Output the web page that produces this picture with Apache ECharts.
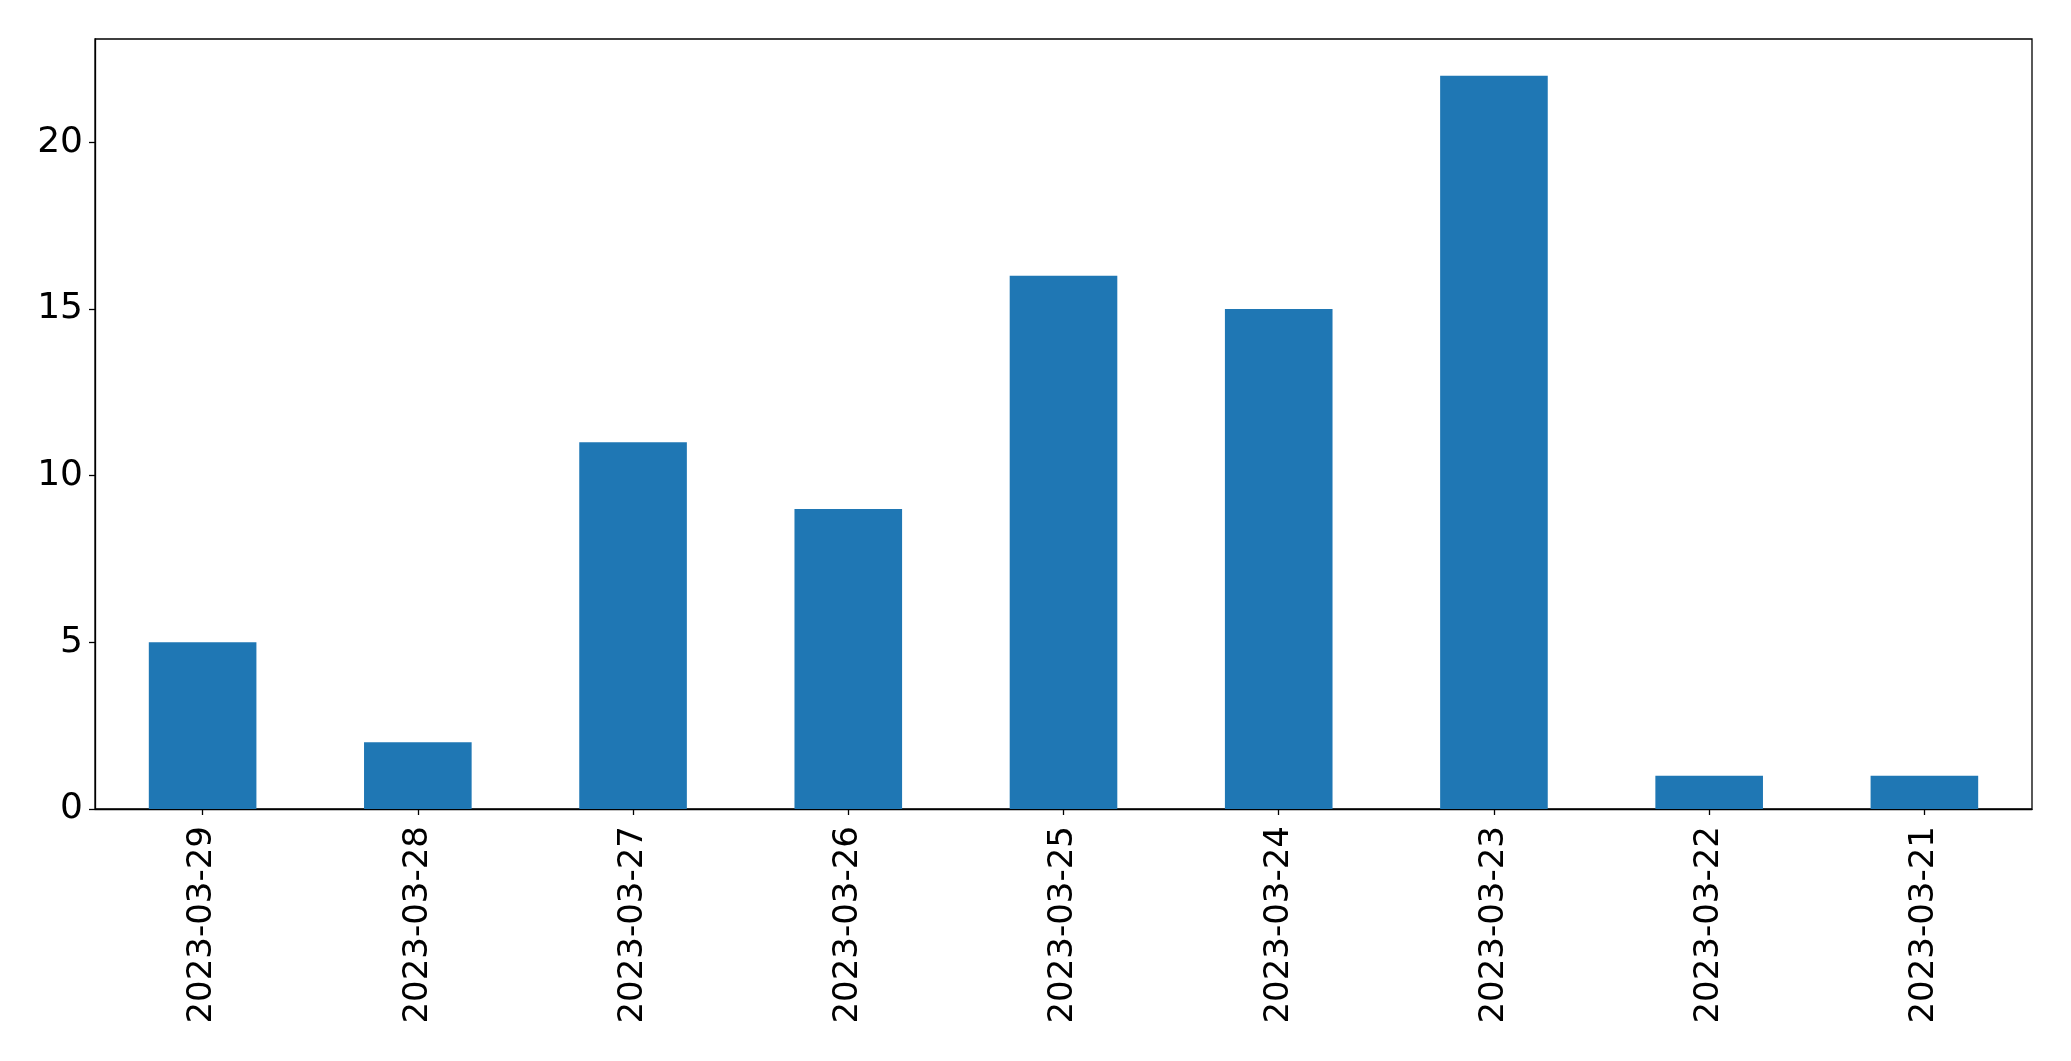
<!DOCTYPE html>
<html><head><meta charset="utf-8">
<script src="https://cdn.jsdelivr.net/npm/echarts@6/dist/echarts.min.js"></script>
<style>html,body{margin:0;padding:0;background:#fff}#c{width:2071px;height:1061px}</style>
</head><body><div id="c"></div>
<script>
const categories = ['2023-03-29','2023-03-28','2023-03-27','2023-03-26','2023-03-25','2023-03-24','2023-03-23','2023-03-22','2023-03-21'];
const counts = [5, 2, 11, 9, 16, 15, 22, 1, 1];
const yTicks = [0, 5, 10, 15, 20];

const chart = echarts.init(document.getElementById('c'), null, {renderer:'canvas'});
const font = 'DejaVu Sans';
chart.setOption({
  animation: false,
  grid: {left: 95, right: 39, top: 39, bottom: 252, show: true, borderColor: '#000', borderWidth: 1.3, backgroundColor: 'transparent'},
  xAxis: {
    type: 'category', data: categories,
    axisLine: {show: true, lineStyle: {color: '#000', width: 1.3}},
    axisTick: {show: true, alignWithLabel: true, length: 6, lineStyle: {color: '#000', width: 1.3}},
    axisLabel: {rotate: 90, margin: 17, color: '#000', fontSize: 34, fontFamily: font},
    splitLine: {show: false}
  },
  yAxis: {
    type: 'value', min: 0, max: 23.1, interval: 5,
    axisLine: {show: true, lineStyle: {color: '#000', width: 1.3}},
    axisTick: {show: true, length: 6, customValues: yTicks, lineStyle: {color: '#000', width: 1.3}},
    axisLabel: {margin: 12, color: '#000', fontSize: 36, fontFamily: font, customValues: yTicks},
    splitLine: {show: false}
  },
  series: [{type: 'bar', data: counts, barWidth: '50%', itemStyle: {color: '#1f77b4'}}]
});
</script></body></html>
